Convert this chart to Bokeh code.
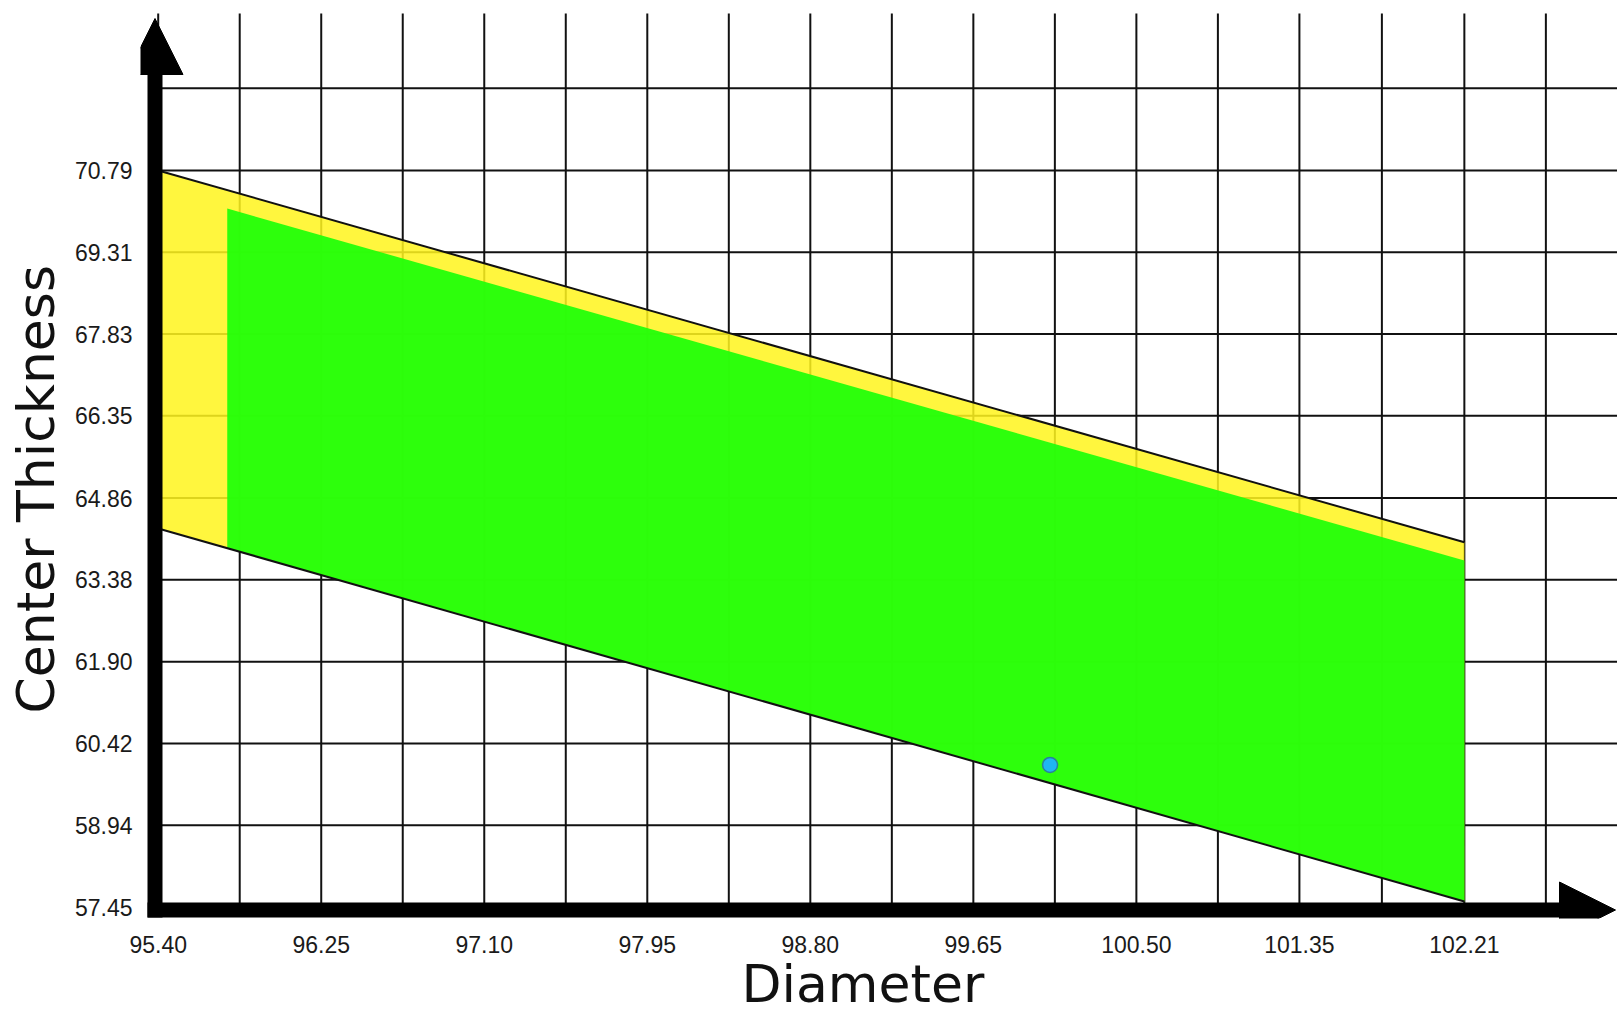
from bokeh.plotting import figure
from bokeh.models import (FixedTicker, PrintfTickFormatter, Arrow, NormalHead,
                          Range1d, Title)
from bokeh.embed import file_html
from bokeh.resources import INLINE

# ---------------- data ----------------
x_ticks = [95.40, 96.25, 97.10, 97.95, 98.80, 99.65, 100.50, 101.35, 102.21]
y_ticks = [57.45, 58.94, 60.42, 61.90, 63.38, 64.86, 66.35, 67.83, 69.31, 70.79]

# outer (yellow) tolerance zone
outer_x = [95.40, 102.21, 102.21, 95.40]
outer_y = [70.79, 64.06, 57.56, 64.31]
# inner (green) zone
inner_x = [95.76, 102.21, 102.21, 95.76]
inner_y = [70.10, 63.73, 57.56, 63.95]
# measured part
point_x = [100.05]
point_y = [60.03]

x_label = "Diameter"
y_label = "Center Thickness"

# ---------------- layout ----------------
W, H = 1617, 1014
FRAME_L, FRAME_T, FRAME_B = 140, 13, 918
PX_X, PX_Y = 191.8, 55.25
x_start = x_ticks[0] - (157.7 - FRAME_L) / PX_X
x_end = x_start + (W - FRAME_L) / PX_X
y_start = y_ticks[0] - (FRAME_B - 907) / PX_Y
y_end = y_start + (FRAME_B - FRAME_T) / PX_Y


def dx(px):
    return x_start + (px - FRAME_L) / PX_X


def dy(py):
    return y_start + (FRAME_B - py) / PX_Y


p = figure(width=W, height=H, x_range=Range1d(x_start, x_end),
           y_range=Range1d(y_start, y_end), output_backend="svg",
           toolbar_location=None, min_border_left=FRAME_L, min_border_top=FRAME_T,
           min_border_right=0, min_border_bottom=H - FRAME_B)
p.outline_line_color = None
p.xgrid.visible = False
p.ygrid.visible = False

for ax, ticks in ((p.xaxis[0], x_ticks), (p.yaxis[0], y_ticks)):
    ax.ticker = FixedTicker(ticks=ticks)
    ax.formatter = PrintfTickFormatter(format="%.2f")
    ax.axis_line_color = None
    ax.major_tick_line_color = None
    ax.minor_tick_line_color = None
    ax.major_tick_out = 0
    ax.major_tick_in = 0
    ax.major_label_text_font = "Liberation Sans"
    ax.major_label_text_font_size = "23px"
    ax.major_label_text_color = "#1a1a1a"
p.xaxis.major_label_standoff = 17
p.yaxis.major_label_standoff = 8

# axis titles as side titles (positioned along the axis with offset)
p.add_layout(Title(text=x_label, align="left", offset=601, standoff=-8,
                   vertical_align="bottom", text_font="DejaVu Sans",
                   text_font_size="52px", text_font_style="normal",
                   text_color="#111111"), "below")
p.add_layout(Title(text=y_label, align="left", offset=205, standoff=8,
                   vertical_align="top", text_font="DejaVu Sans",
                   text_font_size="52px", text_font_style="normal",
                   text_color="#111111"), "left")

# grid lines: half steps along x, full steps along y
half = (x_ticks[1] - x_ticks[0]) / 2
vx = []
for i, t in enumerate(x_ticks):
    if i > 0:
        vx.append((x_ticks[i - 1] + t) / 2)
    vx.append(t)
vx.append(x_ticks[-1] + half)
ystep = y_ticks[1] - y_ticks[0]
hy = y_ticks[1:] + [y_ticks[-1] + ystep]

p.segment(x0=vx, y0=[y_ticks[0]] * len(vx), x1=vx, y1=[y_end + 1] * len(vx),
          line_color="#111111", line_width=2)
p.segment(x0=[x_ticks[0]] * len(hy), y0=hy, x1=[x_end + 1] * len(hy), y1=hy,
          line_color="#111111", line_width=2)

# zones
p.patch(outer_x, outer_y, fill_color="#fff51e", fill_alpha=0.86, line_color=None)
p.patch(inner_x, inner_y, fill_color="#22ff0a", fill_alpha=0.95, line_color=None)
p.line(outer_x[:2], outer_y[:2], line_color="#111111", line_width=2)
p.line(outer_x[2:], outer_y[2:], line_color="#111111", line_width=2)

p.scatter(point_x, point_y, size=15, fill_color="#1fb6f2", line_color="#2a7f9a",
          line_width=1.5)

# thick axis arrows
p.add_layout(Arrow(end=NormalHead(size=56, fill_color="black", line_color="black"),
                   x_start=dx(154.5), y_start=dy(917), x_end=dx(154.5), y_end=dy(18),
                   line_width=15, line_color="black"))
p.add_layout(Arrow(end=NormalHead(size=56, fill_color="black", line_color="black"),
                   x_start=dx(147), y_start=dy(909.5), x_end=dx(1615), y_end=dy(909.5),
                   line_width=15, line_color="black"))

open("out.html", "w").write(file_html(p, INLINE))
